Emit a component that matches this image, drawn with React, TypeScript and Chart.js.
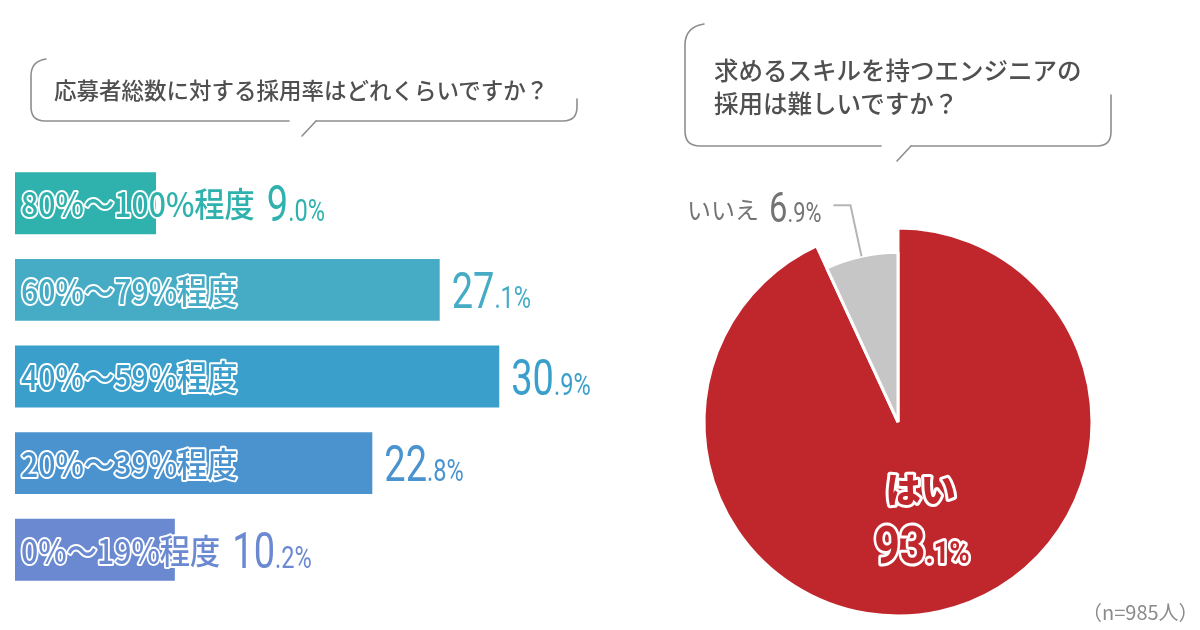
import React, { useEffect, useRef } from "react";
import { Chart, registerables } from "chart.js";

Chart.register(...registerables);

// ---------- data ----------
const barCategories = ["80%～100%程度", "60%～79%程度", "40%～59%程度", "20%～39%程度", "0%～19%程度"];
const barValues = [9.0, 27.1, 30.9, 22.8, 10.2];
const barColors = ["#2fb2ad", "#46acc6", "#3b9fcc", "#4a93cf", "#6a89d1"];
const barAxisMax = 35;

const pieLabels = ["はい", "いいえ"];
const pieValues = [93.1, 6.9];
const pieColors = ["#c0272d", "#c6c6c6"];

const leftQuestion = "応募者総数に対する採用率はどれくらいですか？";
const rightQuestion = ["求めるスキルを持つエンジニアの", "採用は難しいですか？"];
const sampleNote = "（n=985人）";

const JP = '"Noto Sans CJK JP", "Noto Sans", sans-serif';
const NUM = 'Roboto, "DejaVu Sans", sans-serif';

function splitValue(v: number): [string, string] {
  const s = v.toFixed(1);
  const [a, b] = s.split(".");
  return [a, "." + b + "%"];
}

type NumOpts = {
  bigFont: string;
  smallFont: string;
  scaleX: number;
  color: string;
  align: "left" | "right";
  stroke?: number;
};

function drawNumber(ctx: CanvasRenderingContext2D, v: number, x: number, baseline: number, o: NumOpts) {
  const [a, b] = splitValue(v);
  ctx.save();
  ctx.font = o.bigFont;
  const wa = ctx.measureText(a).width * o.scaleX;
  ctx.font = o.smallFont;
  const wb = ctx.measureText(b).width * o.scaleX;
  const total = wa + wb;
  const left = o.align === "right" ? x - total : x;
  const parts: [string, string, number][] = [
    [a, o.bigFont, left],
    [b, o.smallFont, left + wa],
  ];
  for (const [t, f, px] of parts) {
    ctx.save();
    ctx.translate(px, baseline);
    ctx.scale(o.scaleX, 1);
    ctx.font = f;
    ctx.textBaseline = "alphabetic";
    ctx.textAlign = "left";
    if (o.stroke) {
      ctx.lineJoin = "round";
      ctx.lineWidth = o.stroke;
      ctx.strokeStyle = "#ffffff";
      ctx.strokeText(t, 0, 0);
    }
    ctx.fillStyle = o.color;
    ctx.fillText(t, 0, 0);
    ctx.restore();
  }
  ctx.restore();
  return total;
}

const LABEL_SCALE = 0.89;

const barLabelPlugin = {
  id: "barLabels",
  afterDatasetsDraw(chart: any) {
    const ctx: CanvasRenderingContext2D = chart.ctx;
    const meta = chart.getDatasetMeta(0);
    meta.data.forEach((bar: any, i: number) => {
      const { x, y, base } = bar.getProps(["x", "y", "base"], true);
      const color = barColors[i];
      const label = barCategories[i];
      const tx = base + 6;
      ctx.save();
      ctx.translate(tx, y + 1);
      ctx.scale(LABEL_SCALE, 1);
      ctx.font = `500 34px ${JP}`;
      ctx.textBaseline = "middle";
      ctx.textAlign = "left";
      ctx.lineJoin = "round";
      ctx.lineWidth = 4;
      ctx.strokeStyle = "#ffffff";
      ctx.strokeText(label, 0, 0);
      ctx.fillStyle = color;
      ctx.fillText(label, 0, 0);
      const labelEnd = tx + ctx.measureText(label).width * LABEL_SCALE;
      ctx.restore();
      const vx = Math.max(x, labelEnd) + 12;
      drawNumber(ctx, barValues[i], vx, y + 18, {
        bigFont: `400 50px ${NUM}`,
        smallFont: `400 31px ${NUM}`,
        scaleX: 0.76,
        color,
        align: "left",
      });
    });
  },
};

const pieShrinkPlugin = {
  id: "pieShrink",
  afterDatasetsUpdate(chart: any) {
    const meta = chart.getDatasetMeta(0);
    const arc = meta.data[1];
    if (arc) arc.outerRadius = arc.outerRadius * 0.875;
  },
};

const pieLabelPlugin = {
  id: "pieLabels",
  afterDatasetsDraw(chart: any) {
    const ctx: CanvasRenderingContext2D = chart.ctx;
    const meta = chart.getDatasetMeta(0);
    // main slice
    const a0 = meta.data[0];
    const p0 = a0.getProps(["x", "y", "startAngle", "endAngle", "outerRadius"], true);
    const mid0 = (p0.startAngle + p0.endAngle) / 2;
    const cx = p0.x + Math.cos(mid0) * p0.outerRadius * 0.5;
    const cy = p0.y + Math.sin(mid0) * p0.outerRadius * 0.5;
    ctx.save();
    ctx.font = `900 35px ${JP}`;
    ctx.textAlign = "center";
    ctx.textBaseline = "middle";
    ctx.lineJoin = "round";
    ctx.lineWidth = 6;
    ctx.strokeStyle = "#ffffff";
    ctx.strokeText(pieLabels[0], cx + 2, cy - 27);
    ctx.fillStyle = pieColors[0];
    ctx.fillText(pieLabels[0], cx + 2, cy - 27);
    ctx.restore();
    const [ia, ib] = splitValue(pieValues[0]);
    ctx.save();
    ctx.font = `700 52px ${NUM}`;
    const wA = ctx.measureText(ia).width * 0.86;
    ctx.font = `700 32px ${NUM}`;
    const wB = ctx.measureText(ib).width * 0.86;
    ctx.restore();
    const totalW = wA + wB;
    drawNumber(ctx, pieValues[0], cx + 3 - totalW / 2, cy + 46, {
      bigFont: `700 52px ${NUM}`,
      smallFont: `700 32px ${NUM}`,
      scaleX: 0.86,
      color: pieColors[0],
      align: "left",
      stroke: 6,
    });

    // small slice with leader line
    const a1 = meta.data[1];
    const p1 = a1.getProps(["x", "y", "startAngle", "endAngle", "outerRadius"], true);
    const mid1 = (p1.startAngle + p1.endAngle) / 2;
    const ax = p1.x + Math.cos(mid1) * p1.outerRadius;
    const ay = p1.y + Math.sin(mid1) * p1.outerRadius;
    const ex = ax - 11;
    const ey = ay - 51;
    const hx = ex - 17;
    ctx.save();
    ctx.strokeStyle = "#b5b5b5";
    ctx.lineWidth = 2;
    ctx.beginPath();
    ctx.moveTo(ax, ay);
    ctx.lineTo(ex, ey);
    ctx.lineTo(hx, ey);
    ctx.stroke();
    ctx.restore();
    const textRight = hx - 12;
    const w = drawNumber(ctx, pieValues[1], textRight, ey + 17, {
      bigFont: `400 42px ${NUM}`,
      smallFont: `400 28px ${NUM}`,
      scaleX: 0.78,
      color: "#747474",
      align: "right",
    });
    ctx.save();
    ctx.font = `400 24px ${JP}`;
    ctx.textAlign = "right";
    ctx.textBaseline = "middle";
    ctx.fillStyle = "#747474";
    ctx.fillText(pieLabels[1], textRight - w - 10, ey + 5);
    ctx.restore();
  },
};

export default function App() {
  const barRef = useRef<HTMLCanvasElement | null>(null);
  const pieRef = useRef<HTMLCanvasElement | null>(null);

  useEffect(() => {
    if (!barRef.current || !pieRef.current) return;
    const barChart = new Chart(barRef.current, {
      type: "bar",
      data: {
        labels: barCategories,
        datasets: [
          {
            data: barValues,
            backgroundColor: barColors,
            borderWidth: 0,
            categoryPercentage: 1,
            barPercentage: 0.715,
          },
        ],
      },
      options: {
        indexAxis: "y",
        responsive: false,
        animation: false,
        devicePixelRatio: 1,
        events: [],
        layout: { padding: { left: 15, right: 76.5, top: 160, bottom: 37 } },
        scales: {
          x: { display: false, min: 0, max: barAxisMax },
          y: { display: false },
        },
        plugins: { legend: { display: false }, tooltip: { enabled: false } },
      },
      plugins: [barLabelPlugin],
    } as any);

    const pieChart = new Chart(pieRef.current, {
      type: "pie",
      data: {
        labels: pieLabels,
        datasets: [
          {
            data: pieValues,
            backgroundColor: pieColors,
            borderColor: "#ffffff",
            borderWidth: 3,
          },
        ],
      },
      options: {
        responsive: false,
        animation: false,
        devicePixelRatio: 1,
        events: [],
        radius: 194,
        layout: { padding: { left: 64.5, right: 108.5, top: 228.5, bottom: 14.5 } },
        plugins: { legend: { display: false }, tooltip: { enabled: false } },
      },
      plugins: [pieShrinkPlugin, pieLabelPlugin],
    } as any);

    return () => {
      barChart.destroy();
      pieChart.destroy();
    };
  }, []);

  const textStyle: React.CSSProperties = {
    position: "absolute",
    fontFamily: JP,
    color: "#505050",
    whiteSpace: "nowrap",
    margin: 0,
  };

  return (
    <div
      style={{
        position: "fixed",
        left: 0,
        top: 0,
        width: 1200,
        height: 630,
        background: "#ffffff",
        overflow: "hidden",
      }}
    >
      <canvas ref={barRef} width={640} height={630} style={{ position: "absolute", left: 0, top: 0 }} />
      <canvas ref={pieRef} width={560} height={630} style={{ position: "absolute", left: 640, top: 0 }} />
      <svg
        width={1200}
        height={630}
        style={{ position: "absolute", left: 0, top: 0, pointerEvents: "none" }}
      >
        <g fill="none" stroke="#8e8e8e" strokeWidth={1.6} strokeLinecap="round">
          <path d="M 46 59 Q 31 61 31 76 L 31 107 Q 31 121 45 121 L 289 121" />
          <path d="M 316 121 L 563 121 Q 577 121 577 107 L 577 99" />
          <path d="M 316 121 L 302 136" />
          <path d="M 704 24 Q 685 27 685 45 L 685 131 Q 685 146 700 146 L 881 146" />
          <path d="M 911 146 L 1097 146 Q 1111 146 1111 132 L 1111 95" />
          <path d="M 911 146 L 897 161" />
        </g>
      </svg>
      <div style={{ ...textStyle, left: 54, top: 77, fontSize: 22.5, lineHeight: "24px", fontWeight: 500 }}>
        {leftQuestion}
      </div>
      <div style={{ ...textStyle, left: 714, top: 53, fontSize: 24.5, lineHeight: "33px", fontWeight: 500 }}>
        {rightQuestion.map((l, i) => (
          <div key={i}>{l}</div>
        ))}
      </div>
      <div style={{ ...textStyle, left: 1082, top: 600, fontSize: 20, lineHeight: "24px", color: "#8a8a8a" }}>
        {sampleNote}
      </div>
    </div>
  );
}
